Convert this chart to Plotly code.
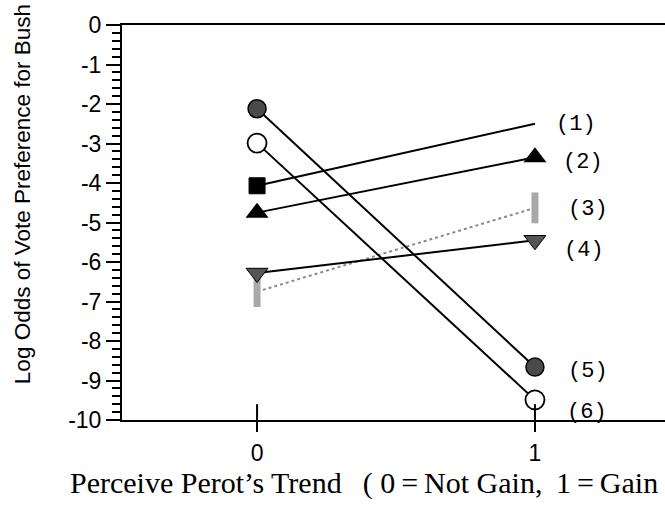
import plotly.graph_objects as go

# ---- data ----
x_vals = [0, 1]
series_names = ["(1)", "(2)", "(3)", "(4)", "(5)", "(6)"]
s1 = [-4.07, -2.50]
s2 = [-4.75, -3.35]
s3 = [-6.75, -4.63]
s4 = [-6.28, -5.45]
s5 = [-2.12, -8.66]
s6 = [-2.99, -9.49]
label_y = [-2.53, -3.47, -4.68, -5.70, -8.78, -9.80]
y_tick_vals = [0, -1, -2, -3, -4, -5, -6, -7, -8, -9, -10]
y_tick_text = ["0", "-1", "-2", "-3", "-4", "-5", "-6", "-7", "-8", "-9", "-10"]
x_tick_vals = [0, 1]
x_tick_text = ["0", "1"]

fig = go.Figure()

# (1) line, with a filled square only at x = 0
fig.add_trace(go.Scatter(x=x_vals, y=s1, mode="lines",
    line=dict(color="black", width=2)))
fig.add_trace(go.Scatter(x=x_vals[:1], y=s1[:1], mode="markers",
    marker=dict(symbol="square", size=16, color="rgb(0,0,0)", opacity=1,
                line=dict(color="rgb(0,0,0)", width=1))))
# (2) triangles
fig.add_trace(go.Scatter(x=x_vals, y=s2, mode="lines+markers",
    line=dict(color="black", width=2),
    marker=dict(symbol="triangle-up", size=20, color="black",
                line=dict(color="black", width=0))))
# (3) gray dotted line with gray bar markers
fig.add_trace(go.Scatter(x=x_vals, y=s3, mode="lines+markers",
    line=dict(color="#8a8a8a", width=2, dash="dot"),
    marker=dict(symbol="line-ns", size=22,
                line=dict(color="#a8a8a8", width=7))))
# (4) inverted triangles
fig.add_trace(go.Scatter(x=x_vals, y=s4, mode="lines+markers",
    line=dict(color="black", width=2),
    marker=dict(symbol="triangle-down", size=19, color="#555555",
                line=dict(color="black", width=1))))
# (5) filled gray circles
fig.add_trace(go.Scatter(x=x_vals, y=s5, mode="lines+markers",
    line=dict(color="black", width=2),
    marker=dict(symbol="circle", size=18, color="#4a4a4a",
                line=dict(color="black", width=1.5))))
# (6) open circles
fig.add_trace(go.Scatter(x=x_vals, y=s6, mode="lines+markers",
    line=dict(color="black", width=2),
    marker=dict(symbol="circle", size=19, color="white",
                line=dict(color="black", width=1.8))))

# series labels at right
label_xshift = [19, 26, 31, 27, 31, 30]
for name, yv, xs in zip(series_names, label_y, label_xshift):
    fig.add_annotation(x=1, y=yv, xref="x", yref="y", text=name,
                       showarrow=False, xanchor="left", yanchor="middle",
                       xshift=xs,
                       font=dict(family="Liberation Mono", size=22, color="black"))

# x-axis tick marks crossing the axis (upper part)
for v in x_tick_vals:
    fig.add_shape(type="line", x0=v, x1=v, y0=0, y1=0.04,
                  xref="x", yref="paper", line=dict(color="black", width=2))

# axis titles
fig.add_annotation(x=-0.184, y=0.572, xref="paper", yref="paper",
                   text="Log Odds of Vote Preference for Bush",
                   textangle=-90, showarrow=False,
                   xanchor="center", yanchor="middle",
                   font=dict(family="Liberation Sans", size=22.5, color="black"))
ts = "\u2009"
fig.add_annotation(x=-0.1, y=-0.159, xref="paper", yref="paper",
                   text=("Perceive Perot’s Trend\u00a0\u00a0" + ts + "(\u00a0" + "0" + ts + "=" + ts
                         + "Not Gain,\u00a0" + ts + "1" + ts + "=" + ts + "Gain"),
                   showarrow=False, xanchor="left", yanchor="middle",
                   font=dict(family="Liberation Serif", size=30, color="black"))

fig.update_layout(
    width=665, height=521,
    margin=dict(l=122, r=0, t=25, b=101),
    paper_bgcolor="white", plot_bgcolor="white",
    showlegend=False,
    xaxis=dict(range=[-0.486, 1.468], showgrid=False, zeroline=False,
               showline=True, linecolor="black", linewidth=2, mirror=True,
               tickmode="array", tickvals=x_tick_vals, ticktext=x_tick_text,
               ticks="outside", ticklen=10, tickwidth=2, tickcolor="black",
               ticklabelstandoff=1,
               tickfont=dict(family="Liberation Sans", size=23, color="black")),
    yaxis=dict(range=[-10, 0], showgrid=False, zeroline=False,
               showline=True, linecolor="black", linewidth=2,
               tickmode="array", tickvals=y_tick_vals, ticktext=y_tick_text,
               ticks="outside", ticklen=14, tickwidth=2, tickcolor="black",
               minor=dict(dtick=0.2, ticks="outside", ticklen=8, tickwidth=1.5,
                          tickcolor="black", showgrid=False),
               tickfont=dict(family="Liberation Sans", size=23, color="black")),
)

fig.write_html("out.html")
